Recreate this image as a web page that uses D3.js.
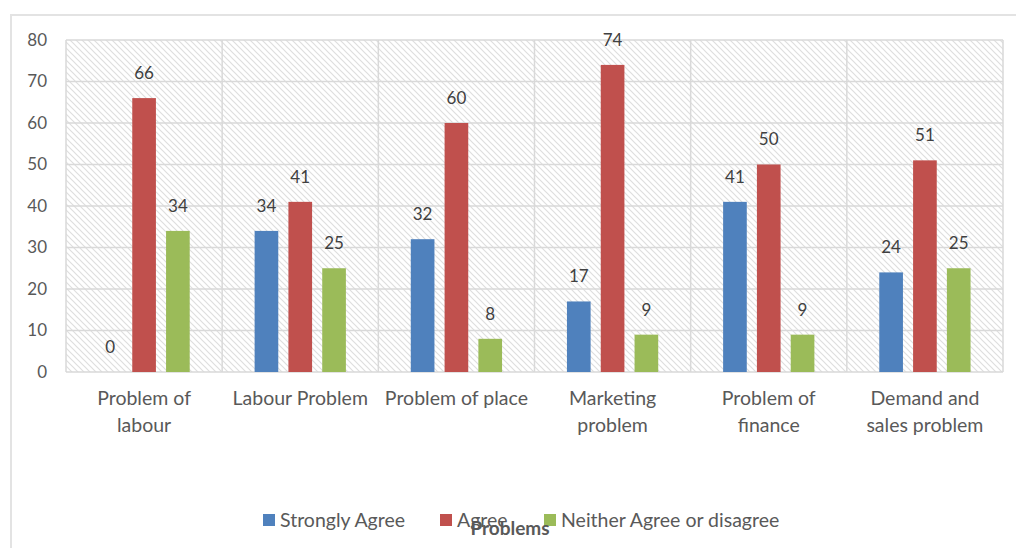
<!DOCTYPE html>
<html>
<head>
<meta charset="utf-8">
<script src="https://cdn.jsdelivr.net/npm/d3@7"></script>
<style>
  body { margin: 0; background: #fff; }
  svg { display: block; font-family: Lato, "Open Sans", sans-serif; }
</style>
</head>
<body>
<svg width="1016" height="548"></svg>
<script>
const categories = [
    ["Problem of", "labour"],
    ["Labour Problem"],
    ["Problem of place"],
    ["Marketing", "problem"],
    ["Problem of", "finance"],
    ["Demand and", "sales problem"]
];
const seriesNames = ["Strongly Agree", "Agree", "Neither Agree or disagree"];
const stronglyAgree = [0, 34, 32, 17, 41, 24];
const agree = [66, 41, 60, 74, 50, 51];
const neither = [34, 25, 8, 9, 9, 25];
const yTicks = [0, 10, 20, 30, 40, 50, 60, 70, 80];

const colors = ["#4f81bd", "#c0504d", "#9bbb59"];
const textColor = "#595959";
const gridColor = "#d9d9d9";

const series = [stronglyAgree, agree, neither];

const svg = d3.select("svg");

// outer chart border
svg.append("rect")
    .attr("x", 11).attr("y", 15)
    .attr("width", 1020).attr("height", 560)
    .attr("fill", "none")
    .attr("stroke", "#e3e3e3")
    .attr("stroke-width", 2);

const margin = { left: 66, top: 40, right: 1003, bottom: 372 };

const x0 = d3.scaleBand()
    .domain(d3.range(categories.length))
    .range([margin.left, margin.right])
    .padding(0);

const x1 = d3.scaleBand()
    .domain(d3.range(series.length))
    .range([0, x0.bandwidth()])
    .paddingInner(0.3)
    .paddingOuter(0.96);

const y = d3.scaleLinear()
    .domain([0, 80])
    .range([margin.bottom, margin.top]);

// hatch pattern
const defs = svg.append("defs");
const pat = defs.append("pattern")
    .attr("id", "hatch")
    .attr("patternUnits", "userSpaceOnUse")
    .attr("width", 6).attr("height", 6);
pat.append("path")
    .attr("d", "M0,0 L6,6 M-1,5 L1,7 M5,-1 L7,1")
    .attr("stroke", "#dedede")
    .attr("stroke-width", 1.2);

svg.append("rect")
    .attr("x", margin.left).attr("y", margin.top)
    .attr("width", margin.right - margin.left)
    .attr("height", margin.bottom - margin.top)
    .attr("fill", "url(#hatch)");

// horizontal gridlines
svg.append("g")
    .selectAll("line")
    .data(yTicks)
    .join("line")
    .attr("x1", margin.left).attr("x2", margin.right)
    .attr("y1", d => y(d)).attr("y2", d => y(d))
    .attr("stroke", gridColor)
    .attr("stroke-width", 1.5);

// vertical separators
svg.append("g")
    .selectAll("line")
    .data(d3.range(categories.length + 1))
    .join("line")
    .attr("x1", d => d < categories.length ? x0(d) : margin.right)
    .attr("x2", d => d < categories.length ? x0(d) : margin.right)
    .attr("y1", margin.top).attr("y2", margin.bottom)
    .attr("stroke", gridColor)
    .attr("stroke-width", 1.5);

// y axis labels
svg.append("g")
    .selectAll("text")
    .data(yTicks)
    .join("text")
    .attr("x", 47)
    .attr("y", d => y(d))
    .attr("dy", "0.35em")
    .attr("text-anchor", "end")
    .attr("fill", textColor)
    .attr("font-size", 17)
    .text(d => d);

// bars
const groups = svg.append("g")
    .selectAll("g")
    .data(categories)
    .join("g")
    .attr("transform", (d, i) => `translate(${x0(i)},0)`);

groups.each(function(c, i) {
    const g = d3.select(this);
    series.forEach((s, j) => {
        const v = s[i];
        g.append("rect")
            .attr("x", x1(j))
            .attr("y", y(v))
            .attr("width", x1.bandwidth())
            .attr("height", y(0) - y(v))
            .attr("fill", colors[j]);
        g.append("text")
            .attr("x", x1(j) + x1.bandwidth() / 2)
            .attr("y", y(v) - 25)
            .attr("dy", "0.35em")
            .attr("text-anchor", "middle")
            .attr("fill", "#404040")
            .attr("font-size", 17)
            .text(v);
    });
    const lbl = g.append("text")
        .attr("text-anchor", "middle")
        .attr("fill", textColor)
        .attr("font-size", 19.5);
    c.forEach((line, k) => {
        lbl.append("tspan")
            .attr("x", x0.bandwidth() / 2)
            .attr("y", 405 + k * 27)
            .text(line);
    });
});

// legend
const legendX = [263, 440, 544];
const legend = svg.append("g")
    .selectAll("g")
    .data(seriesNames)
    .join("g")
    .attr("transform", (d, i) => `translate(${legendX[i]},520)`);
legend.append("rect")
    .attr("x", 0).attr("y", -6)
    .attr("width", 12).attr("height", 12)
    .attr("fill", (d, i) => colors[i]);
legend.append("text")
    .attr("x", 17).attr("y", 0)
    .attr("dy", "0.35em")
    .attr("fill", textColor)
    .attr("font-size", 19.5)
    .text(d => d);

// axis title
svg.append("text")
    .attr("x", 510).attr("y", 528)
    .attr("dy", "0.35em")
    .attr("text-anchor", "middle")
    .attr("fill", textColor)
    .attr("font-size", 19)
    .attr("font-weight", "bold")
    .text("Problems");
</script>
</body>
</html>
